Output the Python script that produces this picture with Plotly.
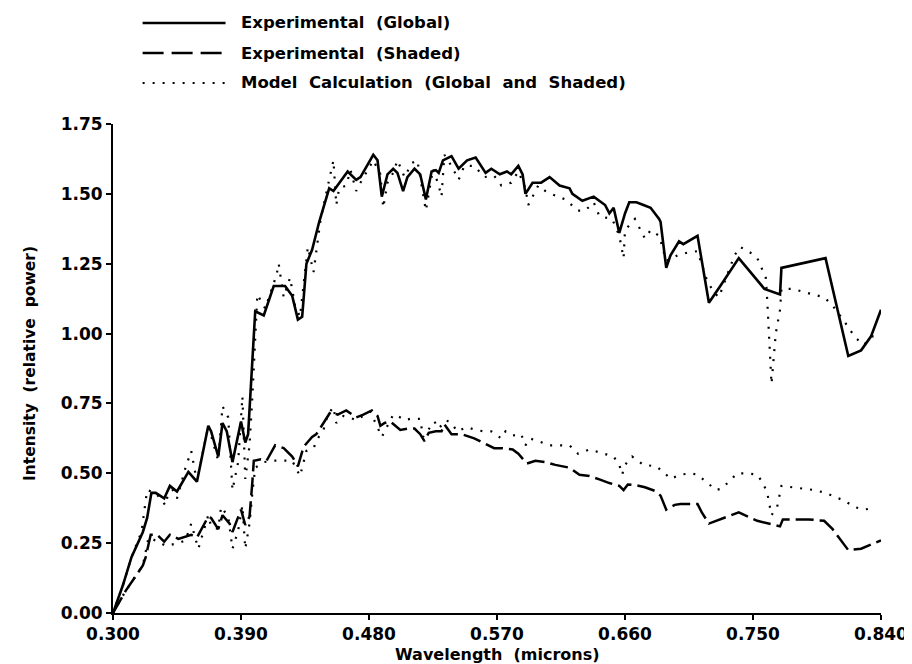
import plotly.graph_objects as go

# ---- data ----
wl_global = [0.300, 0.307, 0.313, 0.321, 0.324, 0.327, 0.330, 0.336, 0.340, 0.345, 0.353, 0.359,
             0.367, 0.369, 0.374, 0.377, 0.380, 0.384, 0.390, 0.393, 0.395, 0.400, 0.406, 0.413,
             0.421, 0.426, 0.430, 0.433, 0.436, 0.440, 0.445, 0.452, 0.455, 0.465, 0.471, 0.474,
             0.483, 0.486, 0.489, 0.493, 0.497, 0.500, 0.504, 0.507, 0.512, 0.516, 0.520, 0.524,
             0.527, 0.529, 0.532, 0.538, 0.543, 0.549, 0.555, 0.562, 0.566, 0.572, 0.577, 0.580,
             0.585, 0.588, 0.590, 0.595, 0.601, 0.607, 0.614, 0.621, 0.623, 0.630, 0.638, 0.646,
             0.649, 0.652, 0.656, 0.660, 0.663, 0.668, 0.673, 0.678, 0.684, 0.685, 0.689, 0.692,
             0.698, 0.701, 0.711, 0.719, 0.727, 0.740, 0.758, 0.769, 0.770, 0.801, 0.817, 0.826,
             0.833, 0.840]
global_exp = [0.00, 0.10, 0.20, 0.29, 0.34, 0.43, 0.43, 0.41, 0.455, 0.435, 0.505, 0.47,
              0.67, 0.65, 0.56, 0.68, 0.65, 0.54, 0.685, 0.61, 0.64, 1.08, 1.065, 1.17,
              1.17, 1.135, 1.05, 1.06, 1.25, 1.30, 1.40, 1.52, 1.51, 1.58, 1.55, 1.56,
              1.64, 1.62, 1.49, 1.57, 1.59, 1.575, 1.51, 1.56, 1.59, 1.57, 1.48, 1.58,
              1.585, 1.575, 1.62, 1.635, 1.59, 1.62, 1.63, 1.575, 1.59, 1.57, 1.58, 1.57,
              1.60, 1.57, 1.50, 1.54, 1.54, 1.56, 1.53, 1.52, 1.50, 1.475, 1.49, 1.46,
              1.43, 1.45, 1.36, 1.43, 1.47, 1.47, 1.46, 1.45, 1.41, 1.40, 1.235, 1.28,
              1.33, 1.32, 1.35, 1.11, 1.17, 1.27, 1.16, 1.14, 1.235, 1.27, 0.92, 0.94,
              0.99, 1.085]

wl_shaded = [0.300, 0.309, 0.321, 0.323, 0.3265, 0.331, 0.336, 0.340, 0.346, 0.355, 0.359, 0.367,
             0.369, 0.374, 0.377, 0.382, 0.384, 0.390, 0.393, 0.396, 0.398, 0.399, 0.404, 0.408,
             0.414, 0.420, 0.426, 0.430, 0.434, 0.440, 0.443, 0.448, 0.453, 0.458, 0.464, 0.471,
             0.476, 0.482, 0.486, 0.488, 0.491, 0.495, 0.502, 0.507, 0.512, 0.516, 0.519, 0.522,
             0.527, 0.531, 0.533, 0.538, 0.545, 0.554, 0.562, 0.568, 0.573, 0.581, 0.585, 0.591,
             0.597, 0.604, 0.611, 0.621, 0.628, 0.635, 0.642, 0.649, 0.656, 0.659, 0.662, 0.668,
             0.674, 0.681, 0.685, 0.689, 0.695, 0.699, 0.711, 0.714, 0.719, 0.727, 0.740, 0.753,
             0.762, 0.769, 0.771, 0.789, 0.800, 0.806, 0.817, 0.826, 0.833, 0.840]
shaded_exp = [0.00, 0.08, 0.17, 0.20, 0.28, 0.28, 0.255, 0.28, 0.265, 0.28, 0.27, 0.345,
              0.34, 0.30, 0.35, 0.32, 0.29, 0.37, 0.315, 0.345, 0.47, 0.545, 0.55, 0.545,
              0.60, 0.59, 0.56, 0.525, 0.595, 0.63, 0.64, 0.68, 0.72, 0.71, 0.725, 0.70,
              0.71, 0.725, 0.705, 0.67, 0.68, 0.685, 0.655, 0.66, 0.66, 0.64, 0.615, 0.645,
              0.65, 0.65, 0.675, 0.64, 0.64, 0.625, 0.605, 0.59, 0.59, 0.585, 0.57, 0.535,
              0.545, 0.54, 0.53, 0.52, 0.495, 0.49, 0.478, 0.465, 0.455, 0.44, 0.46, 0.457,
              0.45, 0.437, 0.42, 0.37, 0.387, 0.39, 0.39, 0.36, 0.32, 0.335, 0.36, 0.33,
              0.32, 0.31, 0.335, 0.335, 0.33, 0.30, 0.225, 0.23, 0.245, 0.26]

wl_model_g = [0.300, 0.307, 0.313, 0.320, 0.324, 0.330, 0.337, 0.340, 0.345, 0.351, 0.355, 0.359,
              0.367, 0.374, 0.377, 0.381, 0.384, 0.388, 0.391, 0.393, 0.396, 0.398, 0.4015, 0.407,
              0.415, 0.4165, 0.420, 0.4245, 0.428, 0.4315, 0.435, 0.437, 0.441, 0.446, 0.455, 0.457,
              0.459, 0.464, 0.467, 0.471, 0.474, 0.483, 0.488, 0.490, 0.493, 0.497, 0.500, 0.505,
              0.510, 0.514, 0.520, 0.525, 0.529, 0.531, 0.533, 0.538, 0.543, 0.547, 0.554, 0.561,
              0.568, 0.573, 0.580, 0.585, 0.590, 0.592, 0.599, 0.604, 0.608, 0.613, 0.618, 0.627,
              0.632, 0.638, 0.642, 0.651, 0.656, 0.659, 0.660, 0.667, 0.674, 0.678, 0.684, 0.689,
              0.697, 0.704, 0.711, 0.717, 0.722, 0.726, 0.737, 0.741, 0.748, 0.753, 0.756, 0.759,
              0.760, 0.763, 0.766, 0.769, 0.770, 0.778, 0.792, 0.800, 0.806, 0.814, 0.822, 0.828,
              0.834, 0.840]
model_global = [0.00, 0.10, 0.20, 0.29, 0.44, 0.43, 0.385, 0.46, 0.41, 0.52, 0.58, 0.47,
                0.67, 0.545, 0.74, 0.70, 0.44, 0.54, 0.775, 0.48, 0.60, 0.775, 1.14, 1.09,
                1.21, 1.25, 1.13, 1.20, 1.10, 1.06, 1.22, 1.31, 1.22, 1.41, 1.62, 1.46,
                1.52, 1.53, 1.585, 1.51, 1.54, 1.62, 1.57, 1.45, 1.54, 1.575, 1.62, 1.56,
                1.61, 1.62, 1.44, 1.59, 1.53, 1.49, 1.64, 1.60, 1.55, 1.60, 1.60, 1.56,
                1.565, 1.53, 1.54, 1.58, 1.52, 1.46, 1.53, 1.51, 1.50, 1.49, 1.48, 1.44,
                1.44, 1.47, 1.42, 1.41, 1.35, 1.27, 1.37, 1.41, 1.34, 1.37, 1.35, 1.26,
                1.28, 1.29, 1.295, 1.20, 1.15, 1.13, 1.28, 1.31, 1.29, 1.27, 1.235, 1.20,
                1.12, 0.82, 1.00, 1.085, 1.16, 1.16, 1.14, 1.13, 1.10, 1.045, 0.985, 0.96,
                0.99, 0.99]

wl_model_s = [0.300, 0.309, 0.321, 0.323, 0.325, 0.332, 0.337, 0.346, 0.351, 0.355, 0.360, 0.367,
              0.369, 0.374, 0.376, 0.381, 0.384, 0.388, 0.391, 0.393, 0.396, 0.398, 0.400, 0.406,
              0.413, 0.420, 0.426, 0.4315, 0.436, 0.441, 0.444, 0.448, 0.451, 0.455, 0.457, 0.462,
              0.466, 0.471, 0.474, 0.481, 0.489, 0.493, 0.497, 0.502, 0.505, 0.509, 0.516, 0.518,
              0.526, 0.529, 0.534, 0.538, 0.542, 0.549, 0.555, 0.561, 0.566, 0.573, 0.576, 0.581,
              0.587, 0.590, 0.593, 0.599, 0.607, 0.614, 0.621, 0.627, 0.635, 0.642, 0.646, 0.652,
              0.656, 0.658, 0.660, 0.665, 0.673, 0.682, 0.688, 0.692, 0.699, 0.706, 0.711, 0.718,
              0.724, 0.728, 0.733, 0.739, 0.745, 0.753, 0.757, 0.760, 0.763, 0.767, 0.770, 0.778,
              0.785, 0.793, 0.801, 0.815, 0.821, 0.828, 0.834]
model_shaded = [0.00, 0.08, 0.17, 0.22, 0.27, 0.255, 0.24, 0.25, 0.26, 0.32, 0.23, 0.35,
                0.31, 0.30, 0.38, 0.345, 0.23, 0.295, 0.385, 0.23, 0.32, 0.43, 0.52, 0.54,
                0.545, 0.545, 0.545, 0.49, 0.58, 0.59, 0.625, 0.655, 0.71, 0.737, 0.68, 0.705,
                0.70, 0.69, 0.70, 0.72, 0.63, 0.67, 0.71, 0.70, 0.69, 0.695, 0.695, 0.63,
                0.685, 0.66, 0.69, 0.68, 0.65, 0.665, 0.655, 0.65, 0.65, 0.625, 0.65, 0.635,
                0.64, 0.60, 0.625, 0.615, 0.60, 0.60, 0.60, 0.57, 0.585, 0.575, 0.57, 0.56,
                0.53, 0.495, 0.53, 0.56, 0.53, 0.525, 0.50, 0.48, 0.495, 0.50, 0.495, 0.465,
                0.44, 0.445, 0.47, 0.50, 0.50, 0.495, 0.465, 0.43, 0.35, 0.38, 0.455, 0.45,
                0.445, 0.44, 0.43, 0.40, 0.38, 0.37, 0.375]

x_ticks = [0.300, 0.390, 0.480, 0.570, 0.660, 0.750, 0.840]
x_tick_labels = ["0.300", "0.390", "0.480", "0.570", "0.660", "0.750", "0.840"]
y_ticks = [0.00, 0.25, 0.50, 0.75, 1.00, 1.25, 1.50, 1.75]
y_tick_labels = ["0.00", "0.25", "0.50", "0.75", "1.00", "1.25", "1.50", "1.75"]

legend_names = ["Experimental  (Global)", "Experimental  (Shaded)",
                "Model  Calculation  (Global  and  Shaded)"]

# ---- figure ----
FONT = "DejaVu Sans"
SOLID = dict(color="black", width=2.6)
DASHED = dict(color="black", width=2.5, dash="18px,6px")
DOTTED = dict(color="black", width=2.2, dash="2px,8px")

fig = go.Figure()
fig.add_trace(go.Scatter(x=wl_model_g, y=model_global, mode="lines", line=DOTTED,
                         name=legend_names[2], showlegend=False))
fig.add_trace(go.Scatter(x=wl_model_s, y=model_shaded, mode="lines", line=DOTTED,
                         name=legend_names[2], showlegend=False))
fig.add_trace(go.Scatter(x=wl_shaded, y=shaded_exp, mode="lines", line=DASHED,
                         name=legend_names[1], showlegend=False))
fig.add_trace(go.Scatter(x=wl_global, y=global_exp, mode="lines", line=SOLID,
                         name=legend_names[0], showlegend=False))

# plot-area geometry in pixels (for converting legend / title positions to paper coords)
L, R, T, B = 105, 29, 116, 59
W, H = 912, 664
pw, ph = W - L - R, H - T - B


def px(xpix):
    return (xpix - L) / pw


def py(ypix):
    return (H - B - ypix) / ph


# custom legend (long line samples like the reference)
legend_rows = [15, 45, 75]
legend_styles = [
    dict(color="black", width=2.5),
    dict(color="black", width=2.5, dash="21px,8px"),
    dict(color="black", width=2.2, dash="2px,8px"),
]
shapes = []
annotations = []
for row, style, label in zip(legend_rows, legend_styles, legend_names):
    shapes.append(dict(type="line", xref="paper", yref="paper",
                       x0=px(135), x1=px(219), y0=py(row), y1=py(row), line=style))
    annotations.append(dict(xref="paper", yref="paper", x=px(233), y=py(row),
                            xanchor="left", yanchor="middle", showarrow=False,
                            text=label,
                            font=dict(family=FONT, size=16.5, color="black", weight="bold")))

annotations.append(dict(xref="paper", yref="paper", x=0.5, y=py(646),
                        xanchor="center", yanchor="middle", showarrow=False,
                        text="Wavelength  (microns)",
                        font=dict(family=FONT, size=16, color="black", weight="bold")))
annotations.append(dict(xref="paper", yref="paper", x=px(21), y=py(356),
                        xanchor="center", yanchor="middle", showarrow=False, textangle=-90,
                        text="Intensity  (relative  power)",
                        font=dict(family=FONT, size=15.5, color="black", weight="bold")))

axis_common = dict(showline=True, linecolor="black", linewidth=2, ticks="outside",
                   ticklen=5, tickwidth=2, tickcolor="black", showgrid=False, zeroline=False,
                   mirror=False,
                   tickfont=dict(family=FONT, size=17, color="black", weight="bold"))

fig.update_layout(
    width=W, height=H,
    margin=dict(l=L, r=R, t=T, b=B, pad=0),
    paper_bgcolor="white", plot_bgcolor="white",
    showlegend=False,
    xaxis=dict(range=[0.300, 0.840], tickvals=x_ticks, ticktext=x_tick_labels, **axis_common),
    yaxis=dict(range=[0.0, 1.75], tickvals=y_ticks, ticktext=y_tick_labels, **axis_common),
    shapes=shapes,
    annotations=annotations,
)

fig.write_html("out.html")
